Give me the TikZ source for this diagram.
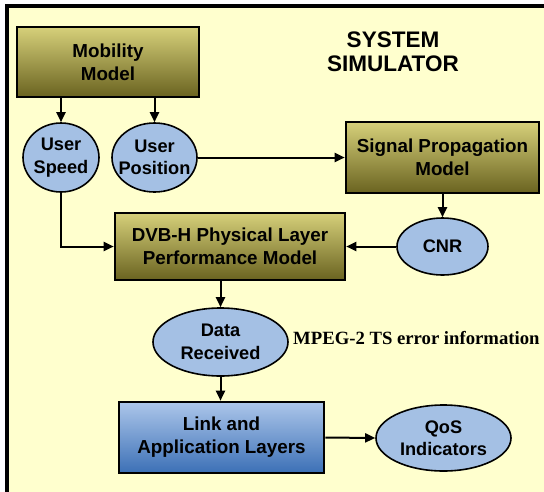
\documentclass[tikz,border=0pt]{standalone}
\usepackage{fontspec}
\setmainfont{Liberation Sans}
\newfontfamily\timesfont{Liberation Serif}
\usetikzlibrary{shapes.geometric,arrows.meta}
\definecolor{bgyellow}{RGB}{255,255,206}
\definecolor{olivetop}{RGB}{214,208,122}
\definecolor{olivebot}{RGB}{106,99,32}
\definecolor{bluetop}{RGB}{172,198,234}
\definecolor{bluebot}{RGB}{60,112,182}
\definecolor{ellfill}{RGB}{164,192,228}
\tikzset{
  olivebox/.style={draw=black, line width=2.6pt, top color=olivetop, bottom color=olivebot, inner sep=0pt, align=center, font=\fontsize{18.8}{23}\selectfont\bfseries},
  bluebox/.style={draw=black, line width=2.6pt, top color=bluetop, bottom color=bluebot, inner sep=0pt, align=center, font=\fontsize{18.8}{23}\selectfont\bfseries},
  ell/.style={ellipse, draw=black, line width=1.6pt, fill=ellfill, inner sep=-14pt, align=center, font=\fontsize{18.2}{22.5}\selectfont\bfseries},
  arr/.style={draw=black, line width=2pt, -{Triangle[length=10pt,width=9pt]}},
}
\begin{document}
\begin{tikzpicture}[x=1pt,y=-1pt]
\useasboundingbox (0,0) rectangle (544,491);
\fill[bgyellow] (7,6) rectangle (545,492);
\draw[black, line width=3.5pt] (7,492) -- (7,6) -- (545,6);

\node[olivebox, minimum width=182pt, minimum height=70pt] (mob) at (108,62) {Mobility\\Model};
\node[ell, minimum width=76pt, minimum height=69pt] (speed) at (61,157.5) {User\\Speed};
\node[ell, minimum width=85pt, minimum height=69pt] (pos) at (154.5,157.5) {User\\Position};
\node[olivebox, minimum width=193pt, minimum height=71pt] (sig) at (442.5,157.5) {Signal Propagation\\Model};
\node[align=center, font=\fontsize{22.5}{24}\selectfont\bfseries] (title) at (393,52) {SYSTEM\\SIMULATOR};
\node[olivebox, minimum width=230pt, minimum height=67pt] (dvb) at (230,246.5) {DVB-H Physical Layer\\Performance Model};
\node[ell, minimum width=91pt, minimum height=57pt] (cnr) at (442.5,246.5) {CNR};
\node[ell, minimum width=135pt, minimum height=68pt] (data) at (220.5,342) {Data\\Received};
\node[anchor=west, inner sep=0pt, font=\fontsize{18.7}{20}\selectfont\timesfont\bfseries] (mpeg) at (293,338) {MPEG-2 TS error information};
\node[bluebox, minimum width=205pt, minimum height=71pt] (link) at (221.5,437.5) {Link and\\Application Layers};
\node[ell, minimum width=135pt, minimum height=66pt] (qos) at (443.5,438) {QoS\\Indicators};

\draw[arr] (mob.south -| speed) -- (speed.north);
\draw[arr] (mob.south -| pos) -- (pos.north);
\draw[arr] (pos.east) -- (sig.west);
\draw[arr] (speed.south) -- (speed.south |- dvb.west) -- (dvb.west);
\draw[arr] (sig.south -| cnr) -- (cnr.north);
\draw[arr] (cnr.west) -- (dvb.east);
\draw[arr] (dvb.south -| data) -- (data.north);
\draw[arr] (data.south) -- (link.north -| data);
\draw[arr] (link.east) -- (qos.west);
\end{tikzpicture}
\end{document}
